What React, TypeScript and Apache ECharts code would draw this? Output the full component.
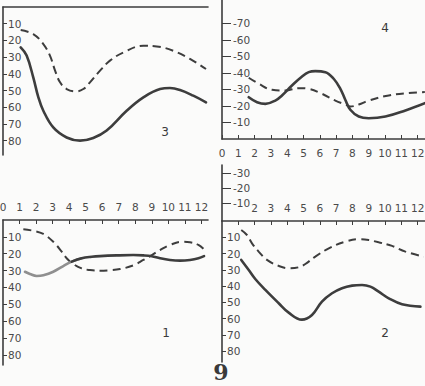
import React, { useEffect, useRef } from "react";
import * as echarts from "echarts";

// Month ticks and value ticks
const monthTicks = [0, 1, 2, 3, 4, 5, 6, 7, 8, 9, 10, 11, 12];
const panel2MonthLabels = [2, 3, 4, 5, 6, 7, 8, 9, 10, 11, 12];
const valueTicks = [10, 20, 30, 40, 50, 60, 70, 80];
const valueTicksUp = [10, 20, 30, 40, 50, 60, 70];
const smallTicks = [10, 20, 30];

// Panel 3 (top left)
const p3Dashed: [number, number][] = [
  [1.07, 13.8], [1.83, 16.2], [2.44, 22.2], [2.84, 29.1], [3.15, 38.1], [3.45, 45.1],
  [3.85, 49.1], [4.42, 50.5], [4.86, 49.1], [5.26, 45.1], [5.87, 38.1], [6.47, 32.1],
  [7.28, 27.2], [8.49, 23.2], [9.3, 23.6], [10.3, 26.2], [11.31, 31.1], [12.28, 37.1],
];
const p3Solid: [number, number][] = [
  [1.07, 24.2], [1.43, 29.1], [1.83, 42.1], [2.14, 54.1], [2.44, 62.1], [3.04, 72.1],
  [3.85, 78.1], [4.66, 80], [5.46, 78.4], [6.27, 74], [7.48, 62.1], [8.49, 54.1],
  [9.5, 49.1], [10.1, 48.5], [10.71, 49.7], [11.51, 53.1], [12.28, 57.1],
];

// Panel 4 (top right)
const p4Dashed: [number, number][] = [
  [1.64, 37.1], [2.25, 33.5], [3.07, 29.8], [3.88, 29.4], [4.71, 30.8], [5.32, 30.4],
  [6.13, 27.4], [6.95, 23.3], [7.56, 20.9], [7.87, 19.7], [8.39, 20.9], [9.0, 23.3],
  [10.23, 26.4], [11.45, 27.8], [12.44, 28.4],
];
const p4Solid: [number, number][] = [
  [1.64, 25.3], [2.15, 22.3], [2.66, 21.3], [3.27, 23.3], [3.68, 26.4], [4.29, 32.4],
  [4.91, 37.9], [5.32, 40.5], [5.72, 41.1], [6.34, 40.5], [6.85, 36.5], [7.26, 30.4],
  [7.56, 23.8], [7.87, 17.7], [8.39, 13.6], [9.0, 12.6], [10.02, 13.6], [11.25, 17.3],
  [12.44, 21.7],
];

// Panel 1 (bottom left)
const p1Dashed: [number, number][] = [
  [1.23, 5.5], [1.83, 6.4], [2.44, 8.3], [3.04, 12.9], [3.55, 18.8], [3.85, 22.7],
  [4.25, 26.1], [4.76, 28.7], [5.26, 29.7], [5.87, 30.1], [6.47, 29.8], [7.08, 29.1],
  [7.88, 26.9], [8.49, 23.7], [9.0, 20.8], [9.5, 17.8], [10.1, 14.8], [10.81, 12.9],
  [11.31, 13.2], [11.82, 14.8], [12.16, 17.4],
];
const p1SolidLight: [number, number][] = [
  [1.33, 30.7], [1.63, 32.0], [2.04, 33.2], [2.44, 32.8], [3.04, 30.7], [3.65, 27.3],
  [4.16, 24.7], [4.76, 22.7],
];
const p1Solid: [number, number][] = [
  [4.16, 24.7], [4.76, 22.7], [5.37, 21.8], [5.87, 21.4], [6.88, 21.0], [7.88, 20.8],
  [8.49, 21.0], [9.0, 21.5], [9.5, 22.7], [10.1, 23.7], [10.71, 24.1], [11.31, 23.7],
  [11.82, 22.7], [12.16, 21.4],
];

// Panel 2 (bottom right)
const p2Dashed: [number, number][] = [
  [1.18, 5.5], [1.53, 8.6], [1.84, 13.7], [2.25, 18.8], [2.76, 23.9], [3.48, 27.6],
  [4.09, 29.0], [4.71, 28.4], [5.11, 26.4], [5.72, 21.9], [6.55, 16.8], [7.56, 12.7],
  [8.39, 11.2], [9.0, 11.7], [9.61, 13.1], [10.43, 15.3], [11.25, 18.8], [12.37, 21.9],
];
const p2Solid: [number, number][] = [
  [1.18, 23.9], [1.64, 30.1], [2.04, 35.6], [2.66, 42.3], [3.48, 50.5], [4.09, 56.3],
  [4.9, 60.6], [5.52, 57.7], [6.13, 49.5], [6.75, 44.4], [7.36, 41.3],
  [7.98, 39.7], [8.59, 39.3], [9.1, 40.3], [9.61, 43.4], [10.23, 47.5], [11.04, 51.1],
  [12.17, 52.6],
];

const panelNames = ["1", "2", "3", "4"];
const figureNumber = "9";

const INK = "#3d3d3d";
const FONT = "DejaVu Sans";

export default function App() {
  const ref = useRef<HTMLDivElement>(null);

  useEffect(() => {
    document.body.style.margin = "0";
    document.body.style.background = "#fbfbfa";
    if (!ref.current) return;
    const chart = echarts.init(ref.current, null, { renderer: "svg" });

    const axisLine = { show: true, onZero: false, lineStyle: { color: INK, width: 1.6 } };
    const label = (extra: any) => ({
      color: "#4a4a4a",
      fontFamily: FONT,
      fontSize: 10.5,
      ...extra,
    });

    const grids = [
      // 0: panel 3
      { left: 3, top: 7, width: 205, height: 148 },
      // 1: panel 4
      { left: 222, top: 0, width: 203, height: 139 },
      // 2: panel 1
      { left: 3, top: 220, width: 205, height: 145 },
      // 3: panel 2
      { left: 222, top: 221, width: 203, height: 141 },
      // 4: panel 2 small upper axis
      { left: 222, top: 165, width: 203, height: 56 },
    ].map((g) => ({ ...g, outerBoundsMode: "none", containLabel: false }));

    const xAxis: any[] = [
      {
        gridIndex: 0, type: "value", min: 0, max: 12.4, position: "top",
        axisLine, axisTick: { show: false }, axisLabel: { show: false }, splitLine: { show: false },
      },
      {
        gridIndex: 1, type: "value", min: 0, max: 12.45, position: "bottom",
        axisLine,
        axisTick: { show: true, inside: true, length: 4, customValues: monthTicks, lineStyle: { color: INK } },
        axisLabel: label({ customValues: monthTicks, margin: 8 }),
        splitLine: { show: false },
      },
      {
        gridIndex: 2, type: "value", min: 0, max: 12.4, position: "top",
        axisLine,
        axisTick: { show: true, inside: true, length: 4, customValues: monthTicks.slice(1), lineStyle: { color: INK } },
        axisLabel: label({ customValues: monthTicks, margin: 8 }),
        splitLine: { show: false },
      },
      {
        gridIndex: 3, type: "value", min: 0, max: 12.45, position: "top",
        axisLine,
        axisTick: { show: true, inside: true, length: 4, customValues: monthTicks.slice(1), lineStyle: { color: INK } },
        axisLabel: label({ customValues: panel2MonthLabels, margin: 8 }),
        splitLine: { show: false },
      },
      {
        gridIndex: 4, type: "value", min: 0, max: 12.45, show: false,
      },
    ];

    const yAxis: any[] = [
      {
        gridIndex: 0, type: "value", min: 0, max: 88.6, inverse: true,
        axisLine,
        axisTick: { show: true, inside: true, length: 4, customValues: valueTicks, lineStyle: { color: INK } },
        axisLabel: label({ inside: true, margin: 5, customValues: valueTicks }),
        splitLine: { show: false },
      },
      {
        gridIndex: 1, type: "value", min: 0, max: 84.2,
        axisLine,
        axisTick: { show: true, inside: true, length: 9, customValues: valueTicksUp, lineStyle: { color: INK } },
        axisLabel: label({ inside: true, margin: 11, customValues: valueTicksUp, formatter: (v: number) => "-" + v }),
        splitLine: { show: false },
      },
      {
        gridIndex: 2, type: "value", min: 0, max: 86, inverse: true,
        axisLine,
        axisTick: { show: true, inside: true, length: 4, customValues: valueTicks, lineStyle: { color: INK } },
        axisLabel: label({ inside: true, margin: 5, customValues: valueTicks }),
        splitLine: { show: false },
      },
      {
        gridIndex: 3, type: "value", min: 0, max: 86.6, inverse: true,
        axisLine,
        axisTick: { show: true, inside: true, length: 4, customValues: valueTicks, lineStyle: { color: INK } },
        axisLabel: label({ inside: true, margin: 5, customValues: valueTicks }),
        splitLine: { show: false },
      },
      {
        gridIndex: 4, type: "value", min: -2, max: 35.3,
        axisLine,
        axisTick: { show: true, inside: true, length: 9, customValues: smallTicks, lineStyle: { color: INK } },
        axisLabel: label({ inside: true, margin: 11, customValues: smallTicks, formatter: (v: number) => "-" + v }),
        splitLine: { show: false },
      },
    ];

    const solid = (idx: number, data: [number, number][], color = INK) => ({
      type: "line", xAxisIndex: idx, yAxisIndex: idx, data, smooth: 0.4, symbol: "none",
      lineStyle: { color, width: 2.6, cap: "round" },
      z: 3,
    });
    const dashed = (idx: number, data: [number, number][]) => ({
      type: "line", xAxisIndex: idx, yAxisIndex: idx, data, smooth: 0.4, symbol: "none",
      lineStyle: { color: INK, width: 2, type: [8, 5] },
      z: 2,
    });

    const series: any[] = [
      dashed(0, p3Dashed), solid(0, p3Solid),
      dashed(1, p4Dashed), solid(1, p4Solid),
      dashed(2, p1Dashed), solid(2, p1SolidLight, "#8f8f8f"), solid(2, p1Solid),
      dashed(3, p2Dashed), solid(3, p2Solid),
    ];

    const txt = (x: number, y: number, text: string, size = 12, weight: any = "normal", family = FONT) => ({
      type: "text", x, y,
      style: { text, fill: "#3a3a3a", fontSize: size, fontWeight: weight, fontFamily: family, align: "center", verticalAlign: "middle" },
    });

    chart.setOption({
      animation: false,
      backgroundColor: "#fbfbfa",
      grid: grids,
      xAxis,
      yAxis,
      series,
      graphic: [
        txt(166, 333, panelNames[0]),
        txt(385, 333, panelNames[1]),
        txt(165, 132, panelNames[2]),
        txt(385, 28, panelNames[3]),
        txt(221, 372, figureNumber, 22, "bold", "DejaVu Serif"),
      ],
    });

    return () => chart.dispose();
  }, []);

  return <div ref={ref} style={{ width: 425, height: 386 }} />;
}
